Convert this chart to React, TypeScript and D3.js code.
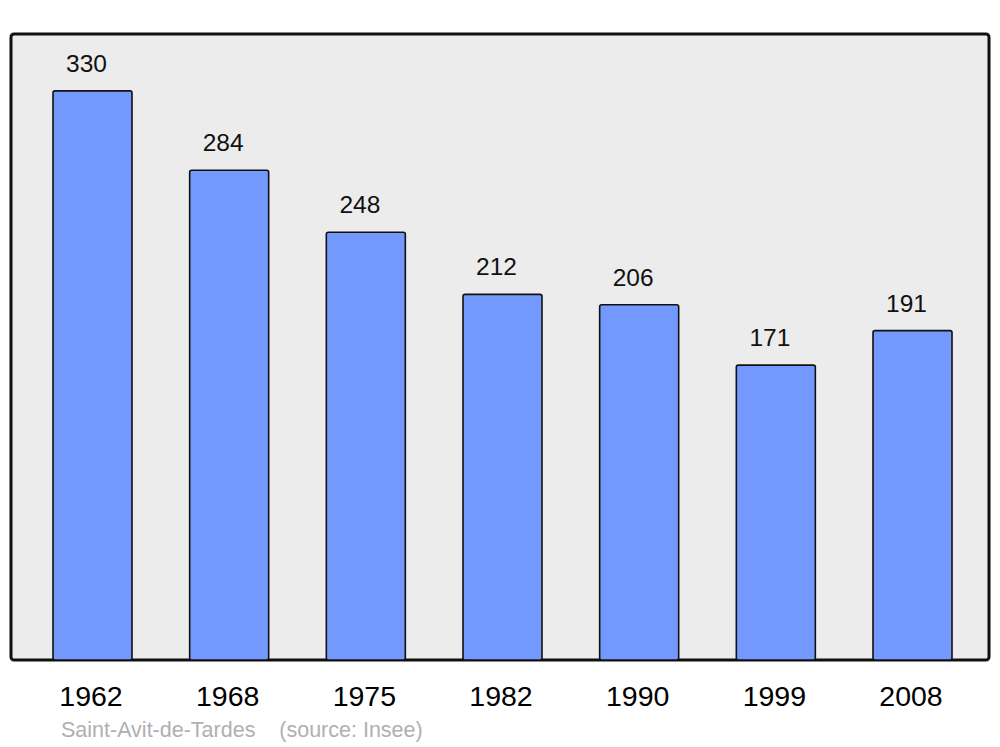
import React from "react";
import * as d3 from "d3";

const years = ["1962", "1968", "1975", "1982", "1990", "1999", "2008"];
const population = [330, 284, 248, 212, 206, 171, 191];
const commune = "Saint-Avit-de-Tardes";
const sourceText = "(source: Insee)";

export default function App() {
  const W = 1000, H = 747;
  const panel = { x: 11, y: 34, w: 978, h: 626 };
  const x = d3.scaleBand<string>().domain(years).range([53, 952]).paddingInner(0.422).paddingOuter(0);
  const y = d3.scaleLinear().domain([0, d3.max(population)! * 1.1]).range([panel.y + panel.h, panel.y]);
  const font = "'Liberation Sans', Arial, sans-serif";
  return (
    <svg width={W} height={H} style={{ position: "absolute", left: 0, top: 0 }} fontFamily={font}>
      <rect x={panel.x} y={panel.y} width={panel.w} height={panel.h} rx={3} fill="#ececec" stroke="#111" strokeWidth={3} />
      {years.map((yr, i) => {
        const v = population[i];
        const bx = x(yr)!;
        const bw = x.bandwidth();
        const top = y(v);
        return (
          <g key={yr}>
            <rect x={bx} y={top} width={bw} height={y(0) - top} rx={2} fill="#7399ff" stroke="#111" strokeWidth={1.6} />
            <text x={bx + bw / 2 - 6} y={top - 19} textAnchor="middle" fontSize={24.5} fill="#111">{v}</text>
            <text x={bx + bw / 2 - 1.5} y={705.5} textAnchor="middle" fontSize={28.5} fill="#000">{yr}</text>
          </g>
        );
      })}
      <text x={61} y={737} fontSize={21.5} fill="#b0b0b0" style={{ whiteSpace: "pre" }}>{commune + "    " + sourceText}</text>
    </svg>
  );
}
